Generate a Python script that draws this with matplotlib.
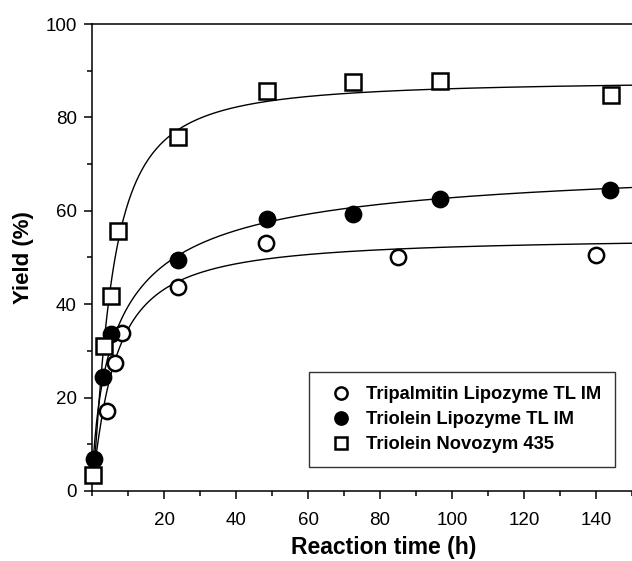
import numpy as np
import matplotlib.pyplot as plt
from matplotlib.ticker import MultipleLocator

plt.rcParams["font.family"] = ["Liberation Sans", "DejaVu Sans"]

# measured points
t_tripalmitin = [4.2, 6.3, 8.4, 24.0, 48.2, 85.0, 140.0]
y_tripalmitin = [17.2, 27.4, 33.8, 43.6, 53.2, 50.0, 50.6]

t_triolein_tl = [0.5, 3.0, 5.2, 24.0, 48.5, 72.5, 96.7, 144.0]
y_triolein_tl = [6.8, 24.4, 33.6, 49.4, 58.2, 59.3, 62.5, 64.4]

t_novozym = [0.4, 3.2, 5.3, 7.3, 24.0, 48.5, 72.6, 96.7, 144.1]
y_novozym = [3.5, 31.0, 41.8, 55.6, 75.7, 85.6, 87.6, 87.8, 84.8]

labels = ["Tripalmitin Lipozyme TL IM", "Triolein Lipozyme TL IM", "Triolein Novozym 435"]

# fitted curve parameters (offset, amplitude, K, n, start time)
fit_tripalmitin = (5.5, 49.0, 6.6, 1.12, 0.7)
fit_triolein_tl = (0.0, 72.0, 7.7, 0.75, 0.5)
fit_novozym = (0.0, 88.0, 5.2, 1.3, 0.4)


def curva(params, t_fim=150.0):
    y0, a, k, n, t0 = params
    t = np.linspace(t0, t_fim, 600)
    s = t - t0 if y0 > 0 else t
    return t, y0 + a * s**n / (k**n + s**n)


fig = plt.figure(figsize=(6.32, 5.61), dpi=100)
ax = fig.add_axes([0.1456, 0.1248, 0.8544, 0.8324])

for params in (fit_tripalmitin, fit_triolein_tl, fit_novozym):
    tc, yc = curva(params)
    ax.plot(tc, yc, color="black", lw=1.0, zorder=2)

estilo = dict(linestyle="none", markersize=11, markeredgewidth=1.8,
              markeredgecolor="black", zorder=3, clip_on=False)
ax.plot(t_tripalmitin, y_tripalmitin, marker="o", markerfacecolor="white",
        label=labels[0], **estilo)
ax.plot(t_triolein_tl, y_triolein_tl, marker="o", markerfacecolor="black",
        label=labels[1], **estilo)
ax.plot(t_novozym, y_novozym, marker="s", markerfacecolor="white",
        label=labels[2], **estilo)

ax.set_xlim(0, 150)
ax.set_ylim(0, 100)
ax.set_xticks([20, 40, 60, 80, 100, 120, 140])
ax.xaxis.set_minor_locator(MultipleLocator(10))
ax.yaxis.set_major_locator(MultipleLocator(20))
ax.yaxis.set_minor_locator(MultipleLocator(10))
ax.tick_params(which="major", direction="out", length=6, width=1.1,
               labelsize=13.5, pad=5)
ax.tick_params(which="minor", direction="out", length=3.5, width=1.1)
ax.tick_params(axis="x", pad=9)
for lado in ("left", "bottom", "top"):
    ax.spines[lado].set_linewidth(1.1)
ax.spines["right"].set_visible(False)

ax.set_xlabel("Reaction time (h)", fontsize=16.5, fontweight="bold")
ax.xaxis.set_label_coords(0.54, -0.097)
ax.set_ylabel("Yield (%)", fontsize=16, fontweight="bold", labelpad=8)

leg = ax.legend(loc="lower right", bbox_to_anchor=(0.9685, 0.051),
                borderaxespad=0, frameon=True, fancybox=False,
                prop={"weight": "bold", "size": 13.2}, markerscale=0.8,
                handlelength=2.0, handletextpad=0.35, labelspacing=0.45,
                borderpad=0.75)
leg.get_frame().set_edgecolor("black")
leg.get_frame().set_linewidth(1.0)

plt.savefig("out.png", dpi=100)
plt.close(fig)
